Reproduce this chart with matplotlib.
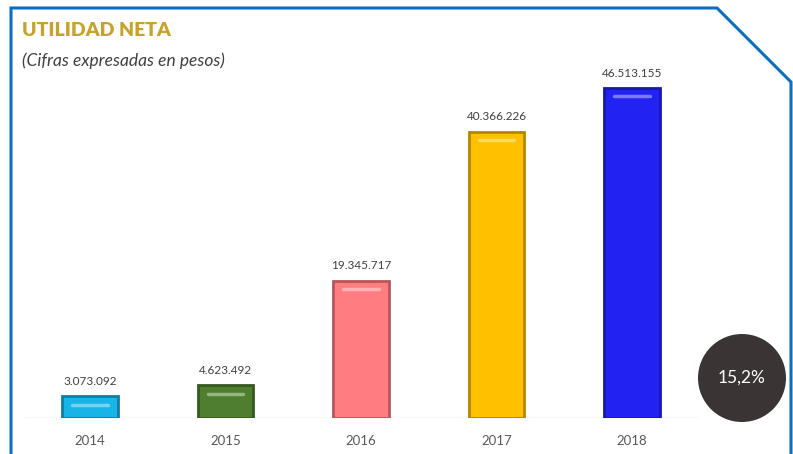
import matplotlib
matplotlib.use("Agg")
import matplotlib.pyplot as plt
from matplotlib.lines import Line2D
from matplotlib.patches import Ellipse
import matplotlib.colors as mcolors

plt.rcParams['font.family'] = ['Lato', 'DejaVu Sans']

years = ["2014", "2015", "2016", "2017", "2018"]
values = [3073092, 4623492, 19345717, 40366226, 46513155]
value_labels = ["3.073.092", "4.623.492", "19.345.717", "40.366.226", "46.513.155"]
colors = ["#18b4e8", "#4f7f2e", "#ff7c80", "#ffc000", "#2222f2"]
growth_label = "15,2%"

W, H = 793, 454
fig = plt.figure(figsize=(W / 100, H / 100), dpi=100)

left_px, right_px, bottom_px, top_px = 25, 700, 418, 40
ax = fig.add_axes([left_px / W, 1 - bottom_px / H, (right_px - left_px) / W, (bottom_px - top_px) / H])
ymax = max(values) * (bottom_px - top_px) / (418 - 88)
ax.set_xlim(-0.48, 4.5)
ax.set_ylim(0, ymax)

x = list(range(len(years)))
width = 0.41

def darker(c, f=0.6):
    r, g, b = mcolors.to_rgb(c)
    return (r * f, g * f, b * f)

def lighter(c, f=0.45):
    r, g, b = mcolors.to_rgb(c)
    return (r + (1 - r) * f, g + (1 - g) * f, b + (1 - b) * f)

for xi, v, c in zip(x, values, colors):
    ax.bar(xi, v, width=width, color=c, edgecolor=darker(c, 0.7), linewidth=2.0, zorder=3)
    ax.plot([xi - width * 0.32, xi + width * 0.32], [v - ymax * 0.022, v - ymax * 0.022],
            color=lighter(c), linewidth=2.5, solid_capstyle='round', zorder=4, alpha=0.9)

for xi, v, lab in zip(x, values, value_labels):
    ax.text(xi, v + ymax * 0.025, lab, ha='center', va='bottom', fontsize=8.5, color='#404040')

ax.axhline(0, color='#d9d9d9', linewidth=1, zorder=2)
for s in ax.spines.values():
    s.set_visible(False)
ax.set_yticks([])
ax.set_xticks(x)
ax.set_xticklabels(years, fontsize=9.5, color='#595959')
ax.tick_params(axis='x', length=0, pad=12)

fig.text(22 / W, 1 - 30 / H, "UTILIDAD NETA", fontsize=14, fontweight='heavy', color='#c8a22a', va='center', ha='left')
fig.text(22 / W, 1 - 61 / H, "(Cifras expresadas en pesos)", fontsize=12.5, fontstyle='italic', color='#404040', va='center', ha='left')

bx = [11, 11, 717, 791, 791]
by = [454, 8, 8, 82, 454]
fig.add_artist(Line2D([p / W for p in bx], [1 - p / H for p in by], color='#0a6fc2', linewidth=2.2,
                      solid_joinstyle='miter'))

cx, cy, r = 742, 378, 44
fig.add_artist(Ellipse((cx / W, 1 - cy / H), 2 * r / W, 2 * r / H, transform=fig.transFigure,
                       facecolor='#3a3534', edgecolor='none'))
fig.text(cx / W, 1 - cy / H, growth_label, fontsize=12.5, color='white', ha='center', va='center')

fig.savefig("out.png", dpi=100)
